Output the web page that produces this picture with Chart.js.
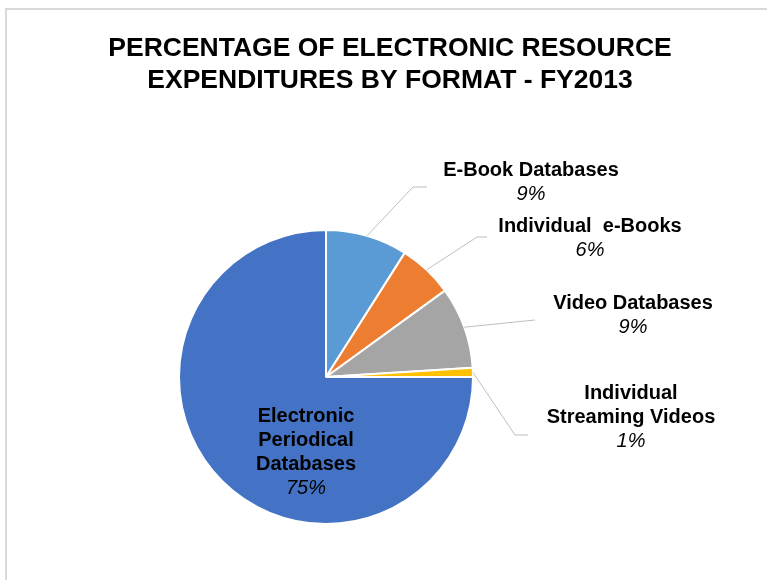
<!DOCTYPE html>
<html>
<head>
<meta charset="utf-8">
<script src="https://cdn.jsdelivr.net/npm/chart.js@4"></script>
<style>
  body { margin: 0; background: #fff; }
  #wrap { width: 767px; height: 580px; position: relative; }
</style>
</head>
<body>
<div id="wrap"><canvas id="formatChart" width="767" height="580"></canvas></div>
<script>
const titleLines = ['PERCENTAGE OF ELECTRONIC RESOURCE', 'EXPENDITURES BY FORMAT - FY2013'];
const formats = [
  ['E-Book Databases'],
  ['Individual  e-Books'],
  ['Video Databases'],
  ['Individual', 'Streaming Videos'],
  ['Electronic', 'Periodical', 'Databases']
];
const percents = [9, 6, 9, 1, 75];
const colors = ['#5B9BD5', '#ED7D31', '#A5A5A5', '#FFC000', '#4472C4'];

// label spots, relative to the pie centre (px); elbow/end are leader line points
const labelSpots = [
  { x: 205, y: -201, elbow: [87, -190], end: [101, -190] },
  { x: 264, y: -145, elbow: [151, -140], end: [161, -140] },
  { x: 307, y: -68, elbow: null, end: [209, -57] },
  { x: 305, y: 22, elbow: [189, 58], end: [202, 58] },
  { x: -20, y: 45, inside: true }
];

const frameAndTitle = {
  id: 'frameAndTitle',
  beforeDraw(chart) {
    const ctx = chart.ctx;
    ctx.save();
    ctx.fillStyle = '#fff';
    ctx.fillRect(0, 0, chart.width, chart.height);
    ctx.strokeStyle = '#D9D9D9';
    ctx.lineWidth = 2;
    ctx.beginPath();
    ctx.moveTo(6, chart.height + 2);
    ctx.lineTo(6, 9);
    ctx.lineTo(chart.width + 2, 9);
    ctx.stroke();
    ctx.fillStyle = '#000';
    ctx.font = 'bold 26.5px "Liberation Sans", Arial, sans-serif';
    ctx.textAlign = 'center';
    ctx.fillText(titleLines[0], 390, 56);
    ctx.fillText(titleLines[1], 390, 88);
    ctx.restore();
  }
};

const sliceLabels = {
  id: 'sliceLabels',
  afterDatasetsDraw(chart) {
    const ctx = chart.ctx;
    const arcs = chart.getDatasetMeta(0).data;
    ctx.save();
    ctx.textAlign = 'center';
    arcs.forEach((arc, i) => {
      const { x, y, startAngle, endAngle, outerRadius } = arc.getProps(['x', 'y', 'startAngle', 'endAngle', 'outerRadius'], true);
      const spot = labelSpots[i];
      if (!spot.inside) {
        const mid = (startAngle + endAngle) / 2;
        ctx.strokeStyle = '#BFBFBF';
        ctx.lineWidth = 1;
        ctx.beginPath();
        ctx.moveTo(x + Math.cos(mid) * outerRadius, y + Math.sin(mid) * outerRadius);
        if (spot.elbow) ctx.lineTo(x + spot.elbow[0], y + spot.elbow[1]);
        ctx.lineTo(x + spot.end[0], y + spot.end[1]);
        ctx.stroke();
      }
      ctx.fillStyle = '#000';
      const lines = formats[i];
      let ly = y + spot.y;
      ctx.font = 'bold 20px "Liberation Sans", Arial, sans-serif';
      lines.forEach(t => {
        ctx.fillText(t, x + spot.x, ly);
        ly += 24;
      });
      ctx.font = 'italic 20px "Liberation Sans", Arial, sans-serif';
      ctx.fillText(percents[i] + '%', x + spot.x, ly);
    });
    ctx.restore();
  }
};

new Chart(document.getElementById('formatChart'), {
  type: 'pie',
  data: {
    labels: formats.map(f => f.join(' ')),
    datasets: [{
      data: percents,
      backgroundColor: colors,
      borderColor: '#fff',
      borderWidth: 2
    }]
  },
  options: {
    responsive: false,
    animation: false,
    radius: 147,
    layout: { padding: { left: 178, right: 293, top: 229, bottom: 55 } },
    plugins: {
      legend: { display: false },
      tooltip: { enabled: false }
    }
  },
  plugins: [frameAndTitle, sliceLabels]
});
</script>
</body>
</html>
